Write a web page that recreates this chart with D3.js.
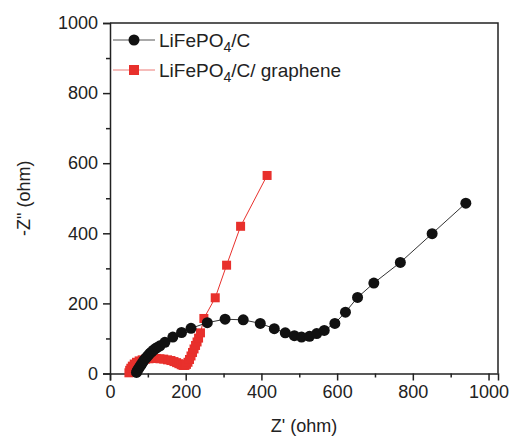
<!DOCTYPE html>
<html>
<head>
<meta charset="utf-8">
<script src="https://cdn.jsdelivr.net/npm/d3@7"></script>
<style>
  html, body { margin: 0; padding: 0; background: #fff; }
  svg { display: block; font-family: "Liberation Sans", Arial, Helvetica, sans-serif; }
</style>
</head>
<body>
<svg id="chart" width="512" height="436"></svg>
<script>
// Nyquist data: Z' (real) and -Z'' (imaginary), in ohm
const lfpRe = [70, 72, 75, 78, 81, 84, 87, 90, 94, 98, 102, 106, 110, 115, 120, 126, 132,
  145, 166, 189, 214, 257, 304, 352, 397, 434, 463, 487, 506, 527, 546, 566,
  594, 622, 654, 697, 767, 851, 940];
const lfpIm = [3, 8, 13, 18, 23, 28, 33, 38, 43, 48, 53, 58, 62, 67, 71, 75, 79,
  89, 104, 117, 129, 145, 155, 153, 143, 128, 116, 108, 104, 106, 114, 123,
  143, 175, 217, 258, 317, 399, 486];

const grRe = [50, 52, 55, 59, 64, 70, 77, 85, 94, 103, 112, 122, 132, 142, 152, 161, 169,
  176, 182, 188, 193, 198, 202, 206, 210, 214, 218, 222, 226, 230, 234, 239,
  248, 278, 308, 345, 415];
const grIm = [2, 9, 15, 21, 27, 32, 36, 39, 41, 42, 43, 43, 42, 41, 39, 37, 34,
  31, 28, 25, 23, 23, 26, 32, 40, 50, 60, 70, 80, 90, 101, 116,
  157, 216, 309, 420, 565];

const xMajor = [0, 200, 400, 600, 800, 1000];
const xMinor = [100, 300, 500, 700, 900];
const yMajor = [0, 200, 400, 600, 800, 1000];
const yMinor = [100, 300, 500, 700, 900];

const seriesNames = ["LiFePO", "LiFePO"];
const colBlack = "#111111";
const colRed = "#e8302c";

const svg = d3.select("#chart");
const x = d3.scaleLinear().domain([0, 1025]).range([110, 498]);
const y = d3.scaleLinear().domain([0, 1000]).range([373.5, 23]);

const fontSize = 18;
const axisColor = "#222";

// frame (top and right)
svg.append("path")
  .attr("d", `M${x(0)},${y(1000)}H${x(1025)}V${y(0)}`)
  .attr("fill", "none").attr("stroke", axisColor).attr("stroke-width", 1.5);

// bottom axis
const gx = svg.append("g").attr("transform", `translate(0,${y(0)})`);
gx.call(d3.axisBottom(x).tickValues(xMajor).tickSize(7).tickPadding(5).tickFormat(d3.format("d")));
const gxm = svg.append("g").attr("transform", `translate(0,${y(0)})`);
gxm.call(d3.axisBottom(x).tickValues(xMinor).tickSize(4).tickFormat(""));
gxm.select(".domain").remove();

// left axis
const gy = svg.append("g").attr("transform", `translate(${x(0)},0)`);
gy.call(d3.axisLeft(y).tickValues(yMajor).tickSize(7).tickPadding(5).tickFormat(d3.format("d")));
const gym = svg.append("g").attr("transform", `translate(${x(0)},0)`);
gym.call(d3.axisLeft(y).tickValues(yMinor).tickSize(4).tickFormat(""));
gym.select(".domain").remove();

svg.selectAll(".domain").attr("stroke", axisColor).attr("stroke-width", 1.5);
svg.selectAll(".tick line").attr("stroke", axisColor).attr("stroke-width", 1.5);
svg.selectAll(".tick text")
  .attr("font-family", "'Liberation Sans', Arial, sans-serif")
  .attr("font-size", fontSize).attr("fill", "#222");

// axis titles
svg.append("text")
  .attr("x", 304).attr("y", 432)
  .attr("text-anchor", "middle").attr("font-size", fontSize).attr("fill", "#222")
  .text("Z' (ohm)");
svg.append("text")
  .attr("transform", `translate(30,${(y(0) + y(1000)) / 2}) rotate(-90)`)
  .attr("text-anchor", "middle").attr("font-size", fontSize).attr("fill", "#222")
  .text("-Z\" (ohm)");

const lineGen = d3.line().x(d => x(d[0])).y(d => y(d[1]));
const grPts = grRe.map((v, i) => [v, grIm[i]]);
const lfpPts = lfpRe.map((v, i) => [v, lfpIm[i]]);

// LiFePO4/C/graphene: squares
svg.append("path").datum(grPts)
  .attr("d", lineGen).attr("fill", "none").attr("stroke", colRed).attr("stroke-width", 1);
svg.append("g").selectAll("rect").data(grPts).join("rect")
  .attr("x", d => x(d[0]) - 4.5).attr("y", d => y(d[1]) - 4.5)
  .attr("width", 9).attr("height", 9).attr("fill", colRed);

// LiFePO4/C: circles
svg.append("path").datum(lfpPts)
  .attr("d", lineGen).attr("fill", "none").attr("stroke", "#333").attr("stroke-width", 1);
svg.append("g").selectAll("circle").data(lfpPts).join("circle")
  .attr("cx", d => x(d[0])).attr("cy", d => y(d[1])).attr("r", 5.5).attr("fill", colBlack);

// legend
const legend = [
  { sub: "4", tail: "/C", color: colBlack, line: "#555", shape: "circle", yPos: 40 },
  { sub: "4", tail: "/C/ graphene", color: colRed, line: "#ec7a76", shape: "square", yPos: 70 }
];
legend.forEach((l, i) => {
  const g = svg.append("g");
  g.append("line").attr("x1", 113).attr("x2", 155).attr("y1", l.yPos).attr("y2", l.yPos)
    .attr("stroke", l.line).attr("stroke-width", 1);
  if (l.shape === "circle") {
    g.append("circle").attr("cx", 134).attr("cy", l.yPos).attr("r", 5.5).attr("fill", l.color);
  } else {
    g.append("rect").attr("x", 129).attr("y", l.yPos - 5).attr("width", 10).attr("height", 10).attr("fill", l.color);
  }
  const t = g.append("text").attr("x", 159).attr("y", l.yPos + 7)
    .attr("font-size", 19).attr("fill", "#222");
  t.append("tspan").text(seriesNames[i]);
  t.append("tspan").attr("dy", 5).attr("font-size", 14).text(l.sub);
  t.append("tspan").attr("dy", -5).text(l.tail);
});
</script>
</body>
</html>
